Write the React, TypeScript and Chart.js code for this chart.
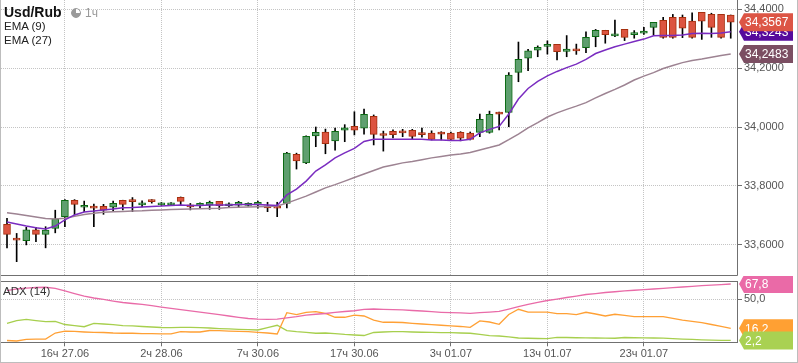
import React, { useEffect, useRef } from "react";
import { Chart, registerables } from "chart.js";

Chart.register(...registerables);

const FONT = '"Liberation Sans", Arial, sans-serif';
const GRID = "#c4c4c4";
const PANEL = "#707070";

const xTickIndex = [6, 16, 26, 36, 46, 56, 66];
const xTickLabels = ["16ч 27.06", "2ч 28.06", "7ч 30.06", "17ч 30.06", "3ч 01.07", "13ч 01.07", "23ч 01.07"];
const priceTicks = [33.6, 33.8, 34.0, 34.2, 34.4];
const adxTicks = [50];

const open = [
  33.669, 33.622, 33.613, 33.65, 33.635, 33.655, 33.695, 33.751, 33.727, 33.731,
  33.73, 33.727, 33.751, 33.753, 33.735, 33.753, 33.735, 33.735, 33.761, 33.735,
  33.733, 33.734, 33.747, 33.732, 33.734, 33.733, 33.735, 33.732, 33.731, 33.74,
  33.907, 33.878, 33.97, 33.983, 33.953, 33.989, 34.002, 33.996, 34.036, 33.978,
  33.985, 33.987, 33.989, 33.981, 33.979, 33.983, 33.979, 33.982, 33.979, 33.982,
  33.982, 34.051, 34.05, 34.186, 34.234, 34.261, 34.274, 34.281, 34.257, 34.266,
  34.27, 34.307, 34.329, 34.31, 34.332, 34.314, 34.319, 34.339, 34.363, 34.373,
  34.373, 34.36, 34.39, 34.383, 34.383, 34.381,
];
const high = [
  33.689, 33.638, 33.659, 33.659, 33.661, 33.717, 33.753, 33.753, 33.748, 33.738,
  33.737, 33.748, 33.751, 33.76, 33.749, 33.753, 33.743, 33.743, 33.762, 33.74,
  33.742, 33.748, 33.747, 33.742, 33.747, 33.742, 33.748, 33.744, 33.744, 33.914,
  33.911, 33.97, 34.0, 33.993, 33.996, 34.008, 34.052, 34.061, 34.041, 33.986,
  33.99, 33.992, 33.992, 33.996, 33.987, 33.984, 33.983, 33.984, 33.983, 34.044,
  34.054, 34.051, 34.185, 34.289, 34.264, 34.276, 34.293, 34.281, 34.311, 34.282,
  34.324, 34.332, 34.329, 34.364, 34.332, 34.328, 34.339, 34.356, 34.373, 34.383,
  34.381, 34.388, 34.39, 34.387, 34.383, 34.381,
];
const low = [
  33.589, 33.542, 33.599, 33.61, 33.589, 33.64, 33.661, 33.701, 33.712, 33.661,
  33.703, 33.712, 33.718, 33.712, 33.728, 33.741, 33.733, 33.733, 33.735, 33.718,
  33.723, 33.72, 33.72, 33.728, 33.727, 33.731, 33.724, 33.712, 33.695, 33.725,
  33.857, 33.875, 33.933, 33.909, 33.921, 33.95, 33.973, 33.976, 33.939, 33.918,
  33.963, 33.967, 33.959, 33.965, 33.956, 33.956, 33.956, 33.953, 33.956, 33.967,
  33.979, 33.99, 34.001, 34.154, 34.192, 34.239, 34.248, 34.228, 34.239, 34.247,
  34.253, 34.273, 34.285, 34.307, 34.294, 34.302, 34.315, 34.313, 34.302, 34.302,
  34.304, 34.302, 34.298, 34.305, 34.302, 34.302,
];
const close = [
  33.635, 33.615, 33.65, 33.635, 33.649, 33.688, 33.751, 33.737, 33.734, 33.724,
  33.717, 33.74, 33.737, 33.746, 33.742, 33.746, 33.742, 33.742, 33.747, 33.728,
  33.74, 33.744, 33.732, 33.739, 33.744, 33.74, 33.744, 33.725, 33.724, 33.911,
  33.885, 33.968, 33.982, 33.943, 33.985, 33.997, 33.989, 34.043, 33.975, 33.971,
  33.974, 33.98, 33.968, 33.974, 33.958, 33.976, 33.958, 33.962, 33.958, 34.026,
  34.043, 34.044, 34.177, 34.23, 34.259, 34.271, 34.281, 34.256, 34.265, 34.259,
  34.305, 34.329, 34.314, 34.317, 34.305, 34.321, 34.326, 34.356, 34.305, 34.305,
  34.336, 34.305, 34.36, 34.339, 34.305, 34.3567,
];
const ema9 = [
  33.677, 33.67, 33.663, 33.657, 33.653, 33.663, 33.684, 33.701, 33.711, 33.714,
  33.718, 33.721, 33.725, 33.726, 33.728, 33.73, 33.731, 33.733, 33.735, 33.733,
  33.733, 33.735, 33.735, 33.735, 33.736, 33.736, 33.736, 33.735, 33.733, 33.769,
  33.789, 33.816, 33.85, 33.871, 33.895, 33.912, 33.927, 33.951, 33.958, 33.958,
  33.958, 33.958, 33.958, 33.958, 33.956, 33.956, 33.954, 33.954, 33.958, 33.98,
  33.992, 34.002, 34.044, 34.095, 34.131, 34.155, 34.174, 34.189, 34.202, 34.214,
  34.23, 34.25, 34.262, 34.273, 34.282, 34.291, 34.299, 34.31, 34.311, 34.311,
  34.313, 34.318, 34.319, 34.318, 34.32, 34.3243,
];
const ema27 = [
  33.708, 33.704, 33.699, 33.694, 33.689, 33.687, 33.69, 33.696, 33.702, 33.707,
  33.71, 33.712, 33.713, 33.714, 33.715, 33.717, 33.718, 33.719, 33.72, 33.721,
  33.722, 33.723, 33.724, 33.726, 33.727, 33.728, 33.729, 33.73, 33.731, 33.741,
  33.753, 33.765, 33.779, 33.793, 33.804, 33.816, 33.828, 33.84, 33.852, 33.864,
  33.871, 33.878, 33.883, 33.889, 33.895, 33.9, 33.905, 33.908, 33.913, 33.922,
  33.93, 33.939, 33.957, 33.976, 33.997, 34.015, 34.034, 34.048, 34.06, 34.071,
  34.083, 34.099, 34.114, 34.128, 34.143, 34.16, 34.173, 34.185, 34.199, 34.209,
  34.219, 34.226, 34.231, 34.237, 34.243, 34.2483,
];
const adx = [
  60.2, 62.0, 63.1, 63.7, 64.0, 62.6, 59.7, 56.7, 53.8, 51.5,
  49.8, 48.0, 46.3, 45.1, 44.0, 42.6, 41.0, 39.5, 38.1, 36.6,
  35.2, 33.7, 32.1, 30.6, 29.1, 27.7, 26.9, 26.6, 26.9, 28.3,
  29.8, 31.7, 32.6, 33.5, 34.7, 35.8, 36.7, 38.4, 38.7, 38.4,
  37.9, 37.6, 37.0, 36.4, 35.6, 34.9, 34.4, 34.1, 33.7, 34.4,
  35.2, 36.0, 38.7, 41.6, 44.0, 46.3, 48.6, 50.3, 52.1, 53.8,
  55.6, 56.7, 57.9, 58.8, 59.7, 60.5, 61.2, 62.0, 62.8, 63.5,
  64.3, 65.1, 65.8, 66.4, 67.1, 67.8,
];
const diPlus = [
  2.1, 1.5, 3.3, 3.8, 3.8, 10.8, 13.1, 12.6, 12.0, 11.6,
  11.4, 10.8, 10.5, 10.5, 10.2, 10.0, 9.7, 9.7, 12.3, 12.0,
  12.0, 13.7, 13.5, 13.1, 12.8, 12.3, 11.6, 10.8, 9.7, 34.4,
  32.3, 34.7, 35.6, 33.5, 29.1, 29.1, 31.7, 30.6, 25.9, 23.3,
  23.3, 23.0, 22.1, 21.3, 20.5, 19.8, 19.0, 18.4, 17.4, 24.8,
  23.6, 20.9, 32.3, 38.4, 35.2, 35.2, 35.2, 33.3, 33.3, 32.1,
  34.9, 32.9, 30.6, 32.6, 31.2, 29.8, 29.8, 29.8, 29.8, 27.9,
  25.9, 24.4, 22.8, 20.7, 18.4, 16.2,
];
const diMinus = [
  21.9, 25.3, 26.7, 25.3, 24.0, 24.4, 20.7, 19.5, 18.1, 22.1,
  21.3, 20.5, 19.5, 19.0, 18.4, 17.8, 17.2, 17.0, 17.4, 17.4,
  17.0, 16.6, 16.0, 15.5, 15.1, 14.7, 14.3, 17.2, 19.8, 13.5,
  12.3, 11.6, 10.5, 10.8, 10.0, 9.1, 8.5, 7.9, 11.4, 12.0,
  12.3, 12.3, 12.0, 11.7, 11.5, 11.3, 11.2, 10.8, 10.5, 9.1,
  7.7, 7.3, 6.2, 5.0, 4.7, 4.4, 4.2, 5.8, 5.6, 5.3,
  5.2, 5.0, 4.8, 4.7, 5.6, 5.3, 5.2, 5.0, 4.8, 4.2,
  3.7, 3.3, 2.9, 2.6, 2.2, 2.2,
];

const X_MIN = -0.622;
const X_MAX = 75.65;

const UP_FILL = "#5f9f6f";
const UP_LINE = "#0b6a12";
const DN_FILL = "#dc5440";
const DN_LINE = "#a5300f";

const comma = (v: number, d: number) => v.toFixed(d).replace(".", ",");

function drawBadge(ctx: CanvasRenderingContext2D, x: number, y: number, text: string, color: string) {
  const h = 18;
  const w = 54;
  const c = 5;
  ctx.save();
  ctx.beginPath();
  ctx.moveTo(x, y);
  ctx.lineTo(x + c, y - h / 2);
  ctx.lineTo(x + w, y - h / 2);
  ctx.lineTo(x + w, y + h / 2);
  ctx.lineTo(x + c, y + h / 2);
  ctx.closePath();
  ctx.fillStyle = color;
  ctx.fill();
  ctx.fillStyle = "#ffffff";
  ctx.font = `12px ${FONT}`;
  ctx.textBaseline = "middle";
  ctx.textAlign = "left";
  ctx.fillText(text, x + c + 1, y + 1);
  ctx.restore();
}

type Badge = { value: number; color: string; digits: number };

const badgePlugin = (badges: Badge[]) => ({
  id: "badges",
  afterDraw(chart: any) {
    const ctx = chart.ctx as CanvasRenderingContext2D;
    const ys = chart.scales.y;
    const x = chart.chartArea.right + 2;
    badges.forEach((b) => {
      drawBadge(ctx, x, ys.getPixelForValue(b.value), comma(b.value, b.digits), b.color);
    });
  },
});

const mainFrame = {
  id: "mainFrame",
  afterDraw(chart: any) {
    const { ctx, chartArea } = chart;
    ctx.save();
    ctx.strokeStyle = PANEL;
    ctx.lineWidth = 1;
    ctx.beginPath();
    ctx.moveTo(chartArea.right + 0.5, 0);
    ctx.lineTo(chartArea.right + 0.5, chartArea.bottom + 0.5);
    ctx.lineTo(0, chartArea.bottom + 0.5);
    ctx.stroke();
    ctx.restore();
  },
};

const adxFrame = {
  id: "adxFrame",
  afterDraw(chart: any) {
    const { ctx, chartArea } = chart;
    ctx.save();
    ctx.strokeStyle = PANEL;
    ctx.lineWidth = 1;
    ctx.strokeRect(0.5, Math.round(chartArea.top) + 0.5, chartArea.right, Math.round(chartArea.bottom - chartArea.top));
    ctx.restore();
  },
};

const xScaleBase = (showLabels: boolean) => ({
  type: "linear" as const,
  min: X_MIN,
  max: X_MAX,
  offset: false,
  afterBuildTicks: (s: any) => {
    s.ticks = xTickIndex.map((v) => ({ value: v }));
  },
  ticks: {
    display: showLabels,
    autoSkip: false,
    maxRotation: 0,
    padding: 1,
    color: "#555555",
    font: { family: FONT, size: 11 },
    callback: (v: any) => {
      const k = xTickIndex.indexOf(Number(v));
      return k >= 0 ? xTickLabels[k] : "";
    },
  },
  grid: {
    offset: false,
    color: GRID,
    drawTicks: showLabels,
    tickLength: 4,
    tickColor: PANEL,
    tickBorderDash: [],
    borderDash: [1, 1],
  },
  border: { display: false, dash: [1, 1] },
});

export default function App() {
  const mainRef = useRef<HTMLCanvasElement>(null);
  const adxRef = useRef<HTMLCanvasElement>(null);

  useEffect(() => {
    document.body.style.margin = "0";
    const idx = open.map((_, i) => i);
    const isUp = idx.map((i) => close[i] >= open[i]);

    const main = new Chart(mainRef.current as HTMLCanvasElement, {
      type: "bar",
      data: {
        datasets: [
          {
            type: "line",
            label: "EMA (9)",
            data: idx.map((i) => ({ x: i, y: ema9[i] })),
            borderColor: "#7a2cc0",
            borderWidth: 1.5,
            pointRadius: 0,
            order: 0,
          } as any,
          {
            type: "line",
            label: "EMA (27)",
            data: idx.map((i) => ({ x: i, y: ema27[i] })),
            borderColor: "#9d8392",
            borderWidth: 1.5,
            pointRadius: 0,
            order: 1,
          } as any,
          {
            type: "bar",
            label: "body",
            data: idx.map((i) => ({ x: i, y: [open[i], close[i]] })),
            backgroundColor: isUp.map((u) => (u ? UP_FILL : DN_FILL)),
            borderColor: isUp.map((u) => (u ? UP_LINE : DN_LINE)),
            borderWidth: 1,
            borderSkipped: false,
            barThickness: 7,
            grouped: false,
            order: 2,
          } as any,
          {
            type: "bar",
            label: "wick",
            data: idx.map((i) => ({ x: i, y: [low[i], high[i]] })),
            backgroundColor: "#000000",
            borderWidth: 0,
            barThickness: 1,
            grouped: false,
            order: 3,
          } as any,
        ],
      },
      options: {
        animation: false,
        responsive: false,
        maintainAspectRatio: false,
        layout: { padding: { left: 1, right: 0, top: 0, bottom: 1 } },
        plugins: { legend: { display: false }, tooltip: { enabled: false }, title: { display: false } },
        scales: {
          x: {
            ...xScaleBase(false),
            afterFit: (s: any) => {
              s.height = 0;
              s.paddingLeft = 0;
              s.paddingRight = 0;
            },
          } as any,
          y: {
            type: "linear",
            position: "right",
            min: 33.4966,
            max: 34.432,
            afterBuildTicks: (s: any) => {
              s.ticks = priceTicks.map((v) => ({ value: v }));
            },
            afterFit: (s: any) => {
              s.width = 61;
              s.paddingTop = 0;
              s.paddingBottom = 0;
            },
            ticks: {
              padding: 2,
              color: "#555555",
              font: { family: FONT, size: 11 },
              callback: (v: any) => comma(Number(v), 4),
            },
            grid: {
              color: GRID,
              tickLength: 5,
              tickColor: PANEL,
              tickBorderDash: [],
              borderDash: [1, 1],
            },
            border: { display: false, dash: [1, 1] },
          } as any,
        },
      },
      plugins: [
        mainFrame,
        badgePlugin([
          { value: ema27[ema27.length - 1], color: "#7b4e62", digits: 4 },
          { value: ema9[ema9.length - 1], color: "#560a9c", digits: 4 },
          { value: close[close.length - 1], color: "#dc5545", digits: 4 },
        ]),
      ],
    });

    const adxChart = new Chart(adxRef.current as HTMLCanvasElement, {
      type: "line",
      data: {
        datasets: [
          {
            label: "ADX",
            data: idx.map((i) => ({ x: i, y: adx[i] })),
            borderColor: "#e96ba8",
            borderWidth: 1.3,
            pointRadius: 0,
          },
          {
            label: "+DI",
            data: idx.map((i) => ({ x: i, y: diPlus[i] })),
            borderColor: "#ffa035",
            borderWidth: 1.3,
            pointRadius: 0,
          },
          {
            label: "-DI",
            data: idx.map((i) => ({ x: i, y: diMinus[i] })),
            borderColor: "#a7cf4e",
            borderWidth: 1.3,
            pointRadius: 0,
          },
        ],
      },
      options: {
        animation: false,
        responsive: false,
        maintainAspectRatio: false,
        layout: { padding: { left: 1, right: 0, top: 5, bottom: 0 } },
        plugins: { legend: { display: false }, tooltip: { enabled: false }, title: { display: false } },
        scales: {
          x: {
            ...xScaleBase(true),
            afterFit: (s: any) => {
              s.height = 20.7;
              s.paddingLeft = 0;
              s.paddingRight = 0;
            },
          } as any,
          y: {
            type: "linear",
            position: "right",
            min: 0,
            max: 71.28,
            afterBuildTicks: (s: any) => {
              s.ticks = adxTicks.map((v) => ({ value: v }));
            },
            afterFit: (s: any) => {
              s.width = 61;
              s.paddingTop = 0;
              s.paddingBottom = 0;
            },
            ticks: {
              padding: 2,
              color: "#555555",
              font: { family: FONT, size: 11 },
              callback: (v: any) => comma(Number(v), 1),
            },
            grid: {
              color: GRID,
              tickLength: 5,
              tickColor: PANEL,
              tickBorderDash: [],
              borderDash: [1, 1],
            },
            border: { display: false, dash: [1, 1] },
          } as any,
        },
      },
      plugins: [
        adxFrame,
        badgePlugin([
          { value: adx[adx.length - 1], color: "#ea6aa7", digits: 1 },
          { value: diPlus[diPlus.length - 1], color: "#ffa033", digits: 1 },
          { value: diMinus[diMinus.length - 1], color: "#a9d152", digits: 1 },
        ]),
      ],
    });

    return () => {
      main.destroy();
      adxChart.destroy();
    };
  }, []);

  const label = (extra: React.CSSProperties): React.CSSProperties => ({
    position: "absolute",
    whiteSpace: "nowrap",
    fontFamily: FONT,
    ...extra,
  });

  return (
    <div style={{ position: "relative", width: 798, height: 363, overflow: "hidden", background: "#ffffff" }}>
      <canvas ref={mainRef} width={798} height={276} style={{ position: "absolute", left: 0, top: 0 }} />
      <canvas ref={adxRef} width={798} height={87} style={{ position: "absolute", left: 0, top: 276 }} />
      <div style={label({ left: 4, top: 4, fontSize: 14, lineHeight: "16px", fontWeight: "bold", color: "#111" })}>Usd/Rub</div>
      <div
        style={{
          position: "absolute",
          left: 71,
          top: 8,
          width: 10,
          height: 10,
          borderRadius: "50%",
          background: "conic-gradient(#ffffff 0 25%, #9a9a9a 25% 100%)",
          border: "1px solid #9a9a9a",
          boxSizing: "border-box",
        }}
      />
      <div style={label({ left: 85, top: 5.5, fontSize: 12, lineHeight: "14px", color: "#999" })}>1ч</div>
      <div style={label({ left: 4, top: 20.2, fontSize: 11.5, lineHeight: "13px", color: "#222" })}>EMA (9)</div>
      <div style={label({ left: 4, top: 34.2, fontSize: 11.5, lineHeight: "13px", color: "#222" })}>EMA (27)</div>
      <div style={label({ left: 3, top: 285.2, fontSize: 11.5, lineHeight: "13px", color: "#333" })}>ADX (14)</div>
      <div
        style={{
          position: "absolute",
          left: 0,
          top: 0,
          width: 798,
          height: 363,
          boxSizing: "border-box",
          borderLeft: "1px solid #bdbdbd",
          borderRight: "1px solid #bdbdbd",
          borderBottom: "1px solid #bdbdbd",
          pointerEvents: "none",
        }}
      />
    </div>
  );
}
